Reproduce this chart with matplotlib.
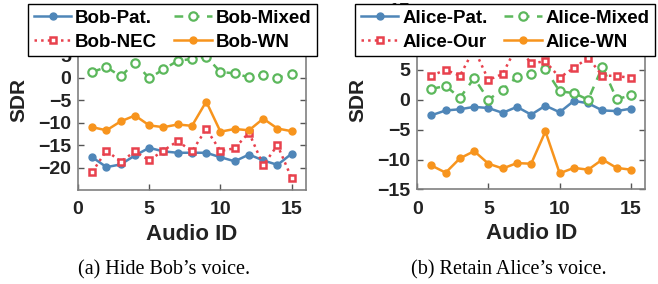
import numpy as np
import matplotlib
matplotlib.use('Agg')
import matplotlib.pyplot as plt

# Data
audio_id = list(range(1, 16))

bob_pat = [-17.7, -19.9, -19.3, -17.3, -15.6, -16.4, -16.7, -16.7, -16.7, -17.7, -18.6, -17.1, -18.4, -19.4, -16.9]
bob_mixed = [1.3, 2.4, 0.3, 3.4, -0.1, 1.9, 3.8, 4.2, 4.7, 1.3, 1.0, 0.1, 0.7, 0.0, 0.9]
bob_nec = [-21.0, -16.2, -18.7, -16.4, -18.4, -16.2, -14.1, -16.4, -11.4, -16.3, -15.7, -12.2, -19.5, -15.0, -22.4]
bob_wn = [-11.0, -11.7, -9.7, -8.4, -10.6, -11.0, -10.4, -10.7, -5.3, -12.0, -11.4, -11.7, -9.1, -11.3, -11.9]

alice_pat = [-2.6, -1.8, -1.6, -1.2, -1.4, -2.2, -1.2, -2.5, -1.0, -2.1, -0.2, -0.6, -1.8, -1.9, -1.5]
alice_mixed = [1.8, 2.3, 0.3, 3.6, 0.0, 1.7, 3.8, 4.3, 5.1, 1.4, 1.1, 0.0, 5.5, 0.1, 0.7]
alice_our = [4.0, 5.0, 4.0, 8.5, 3.3, 4.3, 9.0, 6.1, 6.4, 3.7, 5.3, 7.0, 4.0, 4.0, 3.6]
alice_wn = [-11.0, -12.2, -9.8, -8.6, -10.7, -11.5, -10.6, -10.7, -5.3, -12.3, -11.4, -11.7, -10.0, -11.4, -11.7]

captions = ['(a) Hide Bob\u2019s voice.', '(b) Retain Alice\u2019s voice.']

# styles
blue = '#4f86b8'
green = '#5cb85c'
red = '#e8414d'
orange = '#f7941d'

plt.rcParams['font.family'] = ['Liberation Sans', 'DejaVu Sans']
plt.rcParams['font.weight'] = 'bold'

fig = plt.figure(figsize=(6.58, 2.84), dpi=100)
ax1 = fig.add_axes([0.1185, 0.331, 0.3465, 0.632])
ax2 = fig.add_axes([0.634, 0.333, 0.3465, 0.632])


def draw(ax, series, names, ylim, yticks, leg_x):
    pat, mixed, third, wn = series
    h1, = ax.plot(audio_id, pat, '-o', color=blue, lw=1.8, ms=5, label=names[0])
    h2, = ax.plot(audio_id, mixed, '--o', color=green, lw=1.8, ms=6, mfc='white', mew=1.6,
                  dashes=(3.5, 3), label=names[1])
    h3, = ax.plot(audio_id, third, ':s', color=red, lw=1.8, ms=5, mfc='white', mew=1.8, label=names[2])
    h4, = ax.plot(audio_id, wn, '-o', color=orange, lw=1.8, ms=5, label=names[3])
    ax.set_xlim(0, 16)
    ax.set_ylim(*ylim)
    ax.set_xticks([0, 5, 10, 15])
    ax.set_yticks(yticks)
    ax.tick_params(direction='in', length=4, width=1, colors='#555555', labelcolor='#222222',
                   labelsize=14, right=True, pad=5)
    ax.tick_params(axis='x', pad=8)
    for s in ax.spines.values():
        s.set_color('#808080')
        s.set_linewidth(1.2)
    ax.set_xlabel('Audio ID', fontsize=16, fontweight='bold', color='#222222', labelpad=4)
    ax.set_ylabel('SDR', fontsize=15, fontweight='bold', color='#222222', labelpad=7)
    # row-wise order: (pat, mixed) on top, (third, wn) below
    leg = ax.legend([h1, h3, h2, h4], [names[0], names[2], names[1], names[3]],
                    ncol=2, loc='upper center', bbox_to_anchor=(leg_x, 0.985),
                    bbox_transform=fig.transFigure, fontsize=13.5, frameon=True,
                    fancybox=False, edgecolor='black', framealpha=1,
                    handlelength=2.0, handletextpad=0.2, columnspacing=0.9,
                    borderpad=0.3, labelspacing=0.35, borderaxespad=0)
    leg.get_frame().set_linewidth(1.0)
    for t in leg.get_texts():
        t.set_fontweight('bold')


draw(ax1, [bob_pat, bob_mixed, bob_nec, bob_wn],
     ['Bob-Pat.', 'Bob-Mixed', 'Bob-NEC', 'Bob-WN'],
     (-25, 15), [-20, -15, -10, -5, 0, 5, 10, 15], 0.262)
draw(ax2, [alice_pat, alice_mixed, alice_our, alice_wn],
     ['Alice-Pat.', 'Alice-Mixed', 'Alice-Our', 'Alice-WN'],
     (-15, 15), [-15, -10, -5, 0, 5, 10, 15], 0.768)

fig.text(0.249, 0.049, captions[0], ha='center', va='center', fontsize=14.5,
         family=['Liberation Serif', 'DejaVu Serif'], fontweight='normal')
fig.text(0.774, 0.049, captions[1], ha='center', va='center', fontsize=14.5,
         family=['Liberation Serif', 'DejaVu Serif'], fontweight='normal')

fig.savefig('out.png', dpi=100)
